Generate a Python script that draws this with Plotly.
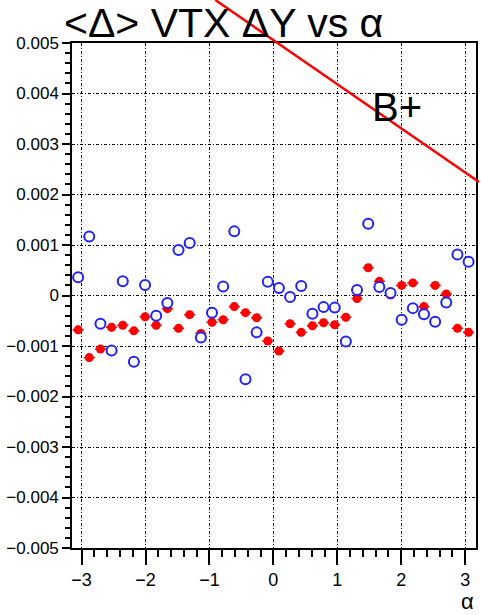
import plotly.graph_objects as go

alpha = [-3.054, -2.880, -2.705, -2.531, -2.356, -2.182, -2.007, -1.833, -1.658,
         -1.484, -1.309, -1.134, -0.960, -0.785, -0.611, -0.436, -0.262, -0.087,
         0.087, 0.262, 0.436, 0.611, 0.785, 0.960, 1.134, 1.309, 1.484, 1.658,
         1.833, 2.007, 2.182, 2.356, 2.531, 2.705, 2.880, 3.054]
half_bin = 0.087

blue_vals = [0.00036, 0.00117, -0.00056, -0.00109, 0.00028, -0.00131, 0.00021, -0.00040,
             -0.00015, 0.00090, 0.00104, -0.00083, -0.00034, 0.00018, 0.00127, -0.00166,
             -0.00073, 0.00027, 0.00015, -0.00003, 0.00019, -0.00036, -0.00023, -0.00024,
             -0.00091, 0.00011, 0.00142, 0.00017, 0.00005, -0.00048, -0.00025, -0.00037,
             -0.00052, -0.00014, 0.00081, 0.00067]
red_vals = [-0.00068, -0.00123, -0.00106, -0.00063, -0.00059, -0.00070, -0.00042, -0.00059,
            -0.00026, -0.00065, -0.00038, -0.00075, -0.00053, -0.00048, -0.00022, -0.00034,
            -0.00044, -0.00090, -0.00110, -0.00056, -0.00073, -0.00060, -0.00054, -0.00058,
            -0.00043, -0.00006, 0.00055, 0.00028, 0.00001, 0.00020, 0.00025, -0.00022,
            0.00020, 0.00003, -0.00065, -0.00073]
red_err = 0.00008

y_ticks = [0.005, 0.004, 0.003, 0.002, 0.001, 0, -0.001, -0.002, -0.003, -0.004, -0.005]
y_labels = ["0.005", "0.004", "0.003", "0.002", "0.001", "0",
            "\u22120.001", "\u22120.002", "\u22120.003", "\u22120.004", "\u22120.005"]
x_ticks = [-3, -2, -1, 0, 1, 2, 3]
x_labels = ["\u22123", "\u22122", "\u22121", "0", "1", "2", "3"]

FONT = "Liberation Sans, Arial, Helvetica, sans-serif"

fig = go.Figure()
fig.add_trace(go.Scatter(
    x=alpha, y=red_vals, mode="markers",
    marker=dict(symbol="circle", size=9, color="#ff0000"),
    error_x=dict(type="constant", value=half_bin, color="#ff0000", thickness=1.5, width=0),
    error_y=dict(type="constant", value=red_err, color="#ff0000", thickness=1.5, width=0),
    showlegend=False,
))
fig.add_trace(go.Scatter(
    x=alpha, y=blue_vals, mode="markers",
    marker=dict(symbol="circle", size=10, color="white", line=dict(color="#2222ff", width=2)),
    error_x=dict(type="constant", value=half_bin, color="#2222ff", thickness=1.5, width=0),
    showlegend=False,
))

W, H = 481, 615
L, R, T, B = 72, 3, 43, 67
pw, ph = W - L - R, H - T - B

def px(xp):
    return (xp - L) / pw

def py(yp):
    return (H - B - yp) / ph

grid_dash = "3px,2px,1px,2px"
fig.update_layout(
    width=W, height=H,
    margin=dict(l=L, r=R, t=T, b=B, pad=0),
    paper_bgcolor="white", plot_bgcolor="white",
    font=dict(family=FONT, size=17, color="black"),
    xaxis=dict(
        range=[-3.15, 3.17], tickvals=x_ticks, ticktext=x_labels,
        ticks="outside", ticklen=15, tickwidth=1.5, tickcolor="black",
        minor=dict(dtick=0.2, ticks="outside", ticklen=7, tickwidth=1.5, tickcolor="black",
                   showgrid=False),
        showgrid=True, gridcolor="black", gridwidth=1, griddash=grid_dash,
        zeroline=False, showline=True, linecolor="black", linewidth=1.5, mirror=True,
        tickfont=dict(size=18, family=FONT),
    ),
    yaxis=dict(
        range=[-0.005, 0.005], tickvals=y_ticks, ticktext=y_labels,
        ticks="outside", ticklen=8, tickwidth=1.5, tickcolor="black",
        minor=dict(dtick=0.0002, ticks="outside", ticklen=5, tickwidth=1.5, tickcolor="black",
                   showgrid=False),
        showgrid=True, gridcolor="black", gridwidth=1, griddash=grid_dash,
        zeroline=False, showline=True, linecolor="black", linewidth=1.5, mirror=True,
        tickfont=dict(size=17, family=FONT),
    ),
)

fig.add_annotation(
    text="&lt;\u0394&gt; VTX \u0394Y vs \u03b1", xref="paper", yref="paper",
    x=px(62), y=py(-2), xanchor="left", yanchor="top", showarrow=False,
    font=dict(size=41, family=FONT, color="black"),
)
fig.add_annotation(
    text="\u03b1", xref="paper", yref="paper",
    x=px(469), y=py(616), xanchor="center", yanchor="bottom", showarrow=False,
    font=dict(size=22, family=FONT, color="black"),
)
fig.add_shape(
    type="line", xref="paper", yref="paper",
    x0=px(216), y0=py(0), x1=px(481), y1=py(182),
    line=dict(color="#ff0000", width=2.5),
)
fig.add_annotation(
    text="B+", xref="paper", yref="paper",
    x=px(399), y=py(107), xanchor="center", yanchor="middle", showarrow=False,
    font=dict(size=40, family=FONT, color="black"),
)

fig.write_html("out.html")
